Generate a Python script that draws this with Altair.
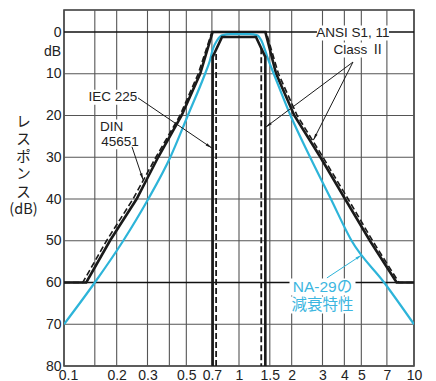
import math
import altair as alt
import pandas as pd

# ---------------- data ----------------
outer_solid_f = [0.1, 0.134, 0.183, 0.26, 0.345, 0.47, 0.6, 0.707, 1.414, 1.63, 2.07, 2.92, 4.04, 5.6, 7.96, 10]
outer_solid_db = [60, 60, 50, 40, 30, 20, 10, 0, 0, 10, 20, 30, 40, 50, 60, 60]

outer_dash_f = [0.1, 0.128, 0.175, 0.248, 0.335, 0.46, 0.585, 0.7, 1.43, 1.68, 2.15, 3.02, 4.2, 5.8, 8.2, 10]
outer_dash_db = [60, 60, 50, 40, 30, 20, 10, 0, 0, 10, 20, 30, 40, 50, 60, 60]

inner_solid_f = [0.707, 0.707, 0.8, 1.25, 1.414, 1.414]
inner_solid_db = [80, 6, 1.2, 1.2, 6, 80]

inner_dash_seg = ["L", "L", "R", "R"]
inner_dash_f = [0.74, 0.74, 1.34, 1.34]
inner_dash_db = [80, 4.2, 3.9, 80]

na29_f = [0.1, 0.15, 0.218, 0.303, 0.405, 0.51, 0.64, 0.68, 0.71, 0.75, 0.8, 0.9, 1.0,
          1.15, 1.27, 1.34, 1.41, 1.48, 1.58, 1.97, 2.55, 3.35, 4.4, 6.75, 10]
na29_db = [70, 60, 50, 40, 30, 20, 10, 7, 4, 2, 0.8, 0.5, 0.5,
           0.5, 0.8, 2, 4.4, 7, 10, 20, 30, 40, 50, 60, 70]

x_ticks = [0.1, 0.15, 0.2, 0.3, 0.4, 0.5, 0.7, 1, 1.5, 2, 3, 4, 5, 7, 10]
y_ticks = [0, 10, 20, 30, 40, 50, 60, 70, 80]

label_text = ["IEC 225", "DIN", "45651", "ANSI S1, 11", "Class Ⅱ", "NA-29の", "減衰特性"]
label_f = [0.1905, 0.187, 0.209, 4.48, 4.85, 3.0, 3.0]
label_db = [15.6, 22.75, 26.3, 0.24, 4.3, 61.1, 65.4]
label_group = ["black", "black", "black", "black", "black", "cyan", "cyan"]

arrow_f1 = [0.265, 0.2446, 4.48, 4.48, 3.18]
arrow_db1 = [15.8, 27.5, 7.2, 7.2, 58.9]
arrow_f2 = [0.70, 0.283, 1.42, 2.66, 5.03]
arrow_db2 = [27.8, 35.4, 22.8, 25.9, 53.4]
arrow_group = ["black", "black", "black", "black", "cyan"]

# ---------------- styling ----------------
# white knock-out boxes behind the annotation texts (pixel width, height)
label_box_w = [52, 26, 40, 72, 54, 66, 66]
label_box_h = [15, 15, 15, 15, 15, 17, 17]

W, H = 350, 356
Y_TOP = -5.27
PX_DEC = W / 2.0
PX_DB = H / (80 - Y_TOP)

BLACK = "#1a1a1a"
CYAN = "#2db4d9"
CYAN_TXT = "#3cb6e0"
NUM_FONT = "Liberation Sans Narrow, Liberation Sans, Arial, sans-serif"
ANN_FONT = "Liberation Sans, Noto Sans CJK JP, sans-serif"
JP_FONT = "Noto Sans CJK JP"

x_scale = alt.Scale(type="log", domain=[0.1, 10], nice=False)
y_scale = alt.Scale(domain=[Y_TOP, 80], reverse=True, nice=False, zero=False)
color_scale = alt.Scale(domain=["black", "cyan"], range=[BLACK, CYAN])

x_axis = alt.Axis(
    values=x_ticks, grid=False, ticks=False, tickSize=0, domain=False, title=None,
    labelExpr="(abs(datum.value-0.15)<1e-6 || abs(datum.value-0.4)<1e-6) ? '' : format(datum.value, '~g')",
    labelFont=NUM_FONT, labelFontSize=14, labelColor="#222", labelPadding=2,
    labelOffset={"condition": {"test": "datum.value < 0.11", "value": 4}, "value": 0},
    labelOverlap=False, labelFlush=False, labelBound=False,
)
y_axis = alt.Axis(
    values=y_ticks, grid=False, ticks=False, tickSize=0, domain=False,
    title=["レ", "ス", "ポ", "ン", "ス", "(dB)"], titleAngle=0, titleX=-41, titleY=105,
    titleAlign="center", titleBaseline="top", titleFont=JP_FONT, titleFontSize=14.5,
    titleFontWeight="normal", titleLineHeight=17.5, titleColor="#222",
    labelFont=NUM_FONT, labelFontSize=14, labelPadding=3, labelColor="#222",
    labelOverlap=False,
)


def frame(f, db, **extra):
    d = {"f": f, "db": db, "i": list(range(len(f)))}
    d.update(extra)
    return pd.DataFrame(d)


def X(field="f:Q"):
    return alt.X(field, scale=x_scale, axis=x_axis)


def Y(field="db:Q"):
    return alt.Y(field, scale=y_scale, axis=y_axis)


# grid lines (drawn first, beneath everything)
vgrid = alt.Chart(pd.DataFrame({"v": x_ticks})).mark_rule(color="#555", strokeWidth=1.1).encode(
    x=X("v:Q")
)
hgrid = alt.Chart(pd.DataFrame({"v": y_ticks})).mark_rule().encode(
    y=Y("v:Q"),
    color=alt.condition("datum.v == 0 || datum.v == 60", alt.value("#111"), alt.value("#555")),
    strokeWidth=alt.condition("datum.v == 0 || datum.v == 60", alt.value(1.5), alt.value(1.1)),
)

outer_solid = alt.Chart(frame(outer_solid_f, outer_solid_db)).mark_line(
    color=BLACK, strokeWidth=2.6, clip=True
).encode(x=X(), y=Y(), order="i:Q")

na29 = alt.Chart(frame(na29_f, na29_db)).mark_line(
    color=CYAN, strokeWidth=2.2, interpolate="monotone", clip=True
).encode(x=X(), y=Y(), order="i:Q")

outer_dash = alt.Chart(frame(outer_dash_f, outer_dash_db)).mark_line(
    color=BLACK, strokeWidth=1.6, strokeDash=[6, 3], clip=True
).encode(x=X(), y=Y(), order="i:Q")

inner_solid = alt.Chart(frame(inner_solid_f, inner_solid_db)).mark_line(
    color=BLACK, strokeWidth=2.6, clip=True
).encode(x=X(), y=Y(), order="i:Q")

inner_dash = alt.Chart(frame(inner_dash_f, inner_dash_db, seg=inner_dash_seg)).mark_line(
    color=BLACK, strokeWidth=1.8, strokeDash=[6, 3], clip=True
).encode(x=X(), y=Y(), detail="seg:N", order="i:Q")

# annotations
box_paths = [
    f"M{-w / 2},{-h / 2}L{w / 2},{-h / 2}L{w / 2},{h / 2}L{-w / 2},{h / 2}Z"
    for w, h in zip(label_box_w, label_box_h)
]
labels_df = pd.DataFrame({
    "t": label_text, "f": label_f, "db": label_db, "g": label_group, "box": box_paths,
})

# size=4 makes custom symbol path units equal to pixels
label_boxes = alt.Chart(labels_df).mark_point(
    filled=True, color="white", size=4, opacity=1, strokeWidth=0
).encode(x=X(), y=Y(), shape=alt.Shape("box:N", scale=None, legend=None))


def label_layer(group, size, color):
    return alt.Chart(labels_df).transform_filter(alt.datum.g == group).mark_text(
        font=ANN_FONT, fontSize=size, align="center", baseline="middle", color=color,
    ).encode(x=X(), y=Y(), text="t:N")


text_b = label_layer("black", 13.5, "#222")
text_c = label_layer("cyan", 15.5, CYAN_TXT)

angles = []
for f1, d1, f2, d2 in zip(arrow_f1, arrow_db1, arrow_f2, arrow_db2):
    dx = PX_DEC * (math.log10(f2) - math.log10(f1))
    dy = PX_DB * (d2 - d1)
    angles.append(math.degrees(math.atan2(dx, -dy)) % 360)

arrows_df = pd.DataFrame({
    "f1": arrow_f1, "db1": arrow_db1, "f2": arrow_f2, "db2": arrow_db2,
    "g": arrow_group, "ang": angles,
})

arrow_lines = alt.Chart(arrows_df).mark_rule(strokeWidth=1).encode(
    x=X("f1:Q"), y=Y("db1:Q"),
    x2="f2:Q", y2="db2:Q",
    color=alt.Color("g:N", scale=color_scale, legend=None),
)
arrow_heads = alt.Chart(arrows_df).mark_point(
    shape="M0,0L-0.45,2.2L0.45,2.2Z", filled=True, size=36, opacity=1
).encode(
    x=X("f2:Q"), y=Y("db2:Q"),
    angle=alt.Angle("ang:Q", scale=None),
    color=alt.Color("g:N", scale=color_scale, legend=None),
)

db_unit = alt.Chart(pd.DataFrame({"f": [0.1], "db": [4.8], "t": ["dB"]})).mark_text(
    font=NUM_FONT, fontSize=14, align="right", baseline="middle", dx=-3, color="#222"
).encode(x=X(), y=Y(), text="t:N")

chart = alt.layer(
    vgrid, hgrid, label_boxes, outer_solid, na29, outer_dash, inner_solid, inner_dash,
    arrow_lines, arrow_heads, text_b, text_c, db_unit,
).properties(
    width=W, height=H,
    autosize=alt.AutoSizeParams(type="none"),
    padding={"left": 56, "top": 2, "right": 14, "bottom": 15},
    background="white",
).configure_view(stroke="#333", strokeWidth=1.5)

chart.save("out.html", embed_options={"renderer": "svg", "actions": False})
